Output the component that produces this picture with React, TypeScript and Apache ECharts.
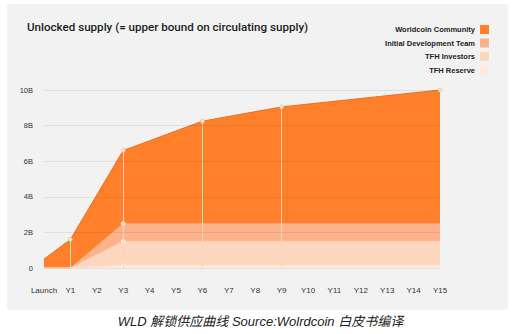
import React, { useEffect, useRef } from "react";
import * as echarts from "echarts";

const xLabels = ["Launch", "Y1", "Y2", "Y3", "Y4", "Y5", "Y6", "Y7", "Y8", "Y9", "Y10", "Y11", "Y12", "Y13", "Y14", "Y15"];
const pointLabels = ["Launch", "Y1", "Y3", "Y6", "Y9", "Y15"];
const reserve = [0, 0, 0.15, 0.15, 0.15, 0.15];
const investors = [0, 0, 1.35, 1.35, 1.35, 1.35];
const devTeam = [0, 0, 1.0, 1.0, 1.0, 1.0];
const community = [0.5, 1.6, 4.1, 5.75, 6.55, 7.5];
const yTicks = [0, 2, 4, 6, 8, 10];

const names = ["TFH Reserve", "TFH Investors", "Initial Development Team", "Worldcoin Community"];
const colors = ["#FEEBDD", "#FDD6BF", "#FDB28B", "#FF7F2A"];
const edgeColors = ["#FDE4D2", "#FCCDB0", "#F9A77A", "#E8701E"];

export default function App() {
  const ref = useRef<HTMLDivElement>(null);
  useEffect(() => {
    if (!ref.current) return;
    const chart = echarts.init(ref.current, undefined, { renderer: "svg" });
    const xs = pointLabels.map((l) => xLabels.indexOf(l));
    const layers = [reserve, investors, devTeam, community];
    // cumulative (stacked) tops for each layer
    const cum = layers.map((_, li) => xs.map((_, i) => layers.slice(0, li + 1).reduce((s, arr) => s + arr[i], 0)));
    const totals = cum[cum.length - 1];

    const series: any[] = layers.map((_, li) => ({
      name: names[li],
      type: "line",
      symbol: "circle",
      symbolSize: 4,
      z: 10 - li,
      lineStyle: { color: edgeColors[li], width: li === 3 ? 1 : 0.8 },
      itemStyle: { color: colors[li] },
      areaStyle: { color: colors[li], opacity: 1 },
      data: cum[li].map((v, i) => {
        const show = li === 3 ? i > 0 : pointLabels[i] === "Y3";
        return {
          value: [xs[i], v],
          symbol: show ? "circle" : "none",
          itemStyle: { color: "#FFE9D8", borderColor: li === 3 ? "#F6B485" : "#FFF3EA", borderWidth: 0.8 },
        };
      }),
      markLine:
        li === 0
          ? {
              silent: true,
              symbol: "none",
              z: 20,
              label: { show: false },
              lineStyle: { color: "#FDD3B4", width: 1, type: "solid" },
              data: xs
                .map((x, i) => ({ x, i }))
                .filter((p) => p.i > 0 && p.i < xs.length - 1)
                .map((p) => [{ coord: [p.x, 0] }, { coord: [p.x, totals[p.i]] }]),
            }
          : undefined,
    }));

    chart.setOption({
      animation: false,
      backgroundColor: "#ffffff",
      graphic: [
        {
          type: "rect",
          z: -10,
          silent: true,
          shape: { x: 7, y: 4, width: 501, height: 306, r: 3 },
          style: { fill: "#F2F2F2" },
        },
        {
          type: "text",
          left: "center",
          top: 315,
          silent: true,
          style: {
            text: "WLD 解锁供应曲线 Source:Wolrdcoin 白皮书编译",
            fontSize: 13,
            fontStyle: "italic",
            fontFamily: "'Liberation Sans', 'Noto Sans CJK SC', sans-serif",
            fill: "#222",
          },
        },
      ],
      title: {
        text: "Unlocked supply (= upper bound on circulating supply)",
        left: 22,
        top: 16,
        textStyle: {
          fontSize: 11.6,
          fontWeight: 500,
          color: "#1c1c1c",
          fontFamily: "Roboto, 'Liberation Sans', sans-serif",
        },
      },
      legend: {
        orient: "vertical",
        right: 27,
        top: 20,
        align: "right",
        itemWidth: 9,
        itemHeight: 9,
        itemGap: 4.5,
        icon: "rect",
        textStyle: {
          fontSize: 7.5,
          fontWeight: "bold",
          color: "#222",
          fontFamily: "'Liberation Sans Narrow', 'Liberation Sans', sans-serif",
        },
        data: [names[3], names[2], names[1], names[0]].map((n) => ({
          name: n,
          itemStyle: { color: colors[names.indexOf(n)] },
        })),
      },
      grid: { left: 44, right: 81, top: 90, bottom: 66, containLabel: false },
      xAxis: {
        type: "value",
        min: 0,
        max: xLabels.length - 1,
        interval: 1,
        axisLine: { show: false },
        axisTick: { show: false },
        splitLine: { show: false },
        axisLabel: {
          margin: 18,
          fontSize: 8,
          color: "#333",
          fontFamily: "'Liberation Sans', sans-serif",
          formatter: (v: number) => xLabels[v] ?? "",
        },
      },
      yAxis: {
        type: "value",
        min: yTicks[0],
        max: yTicks[yTicks.length - 1],
        interval: 2,
        z: 30,
        axisLine: { show: false },
        axisTick: { show: false },
        splitLine: { lineStyle: { color: "rgba(0,0,0,0.07)", width: 1 } },
        axisLabel: {
          margin: 11,
          fontSize: 7.5,
          color: "#333",
          fontFamily: "'Liberation Sans', sans-serif",
          formatter: (v: number) => (v === 0 ? "0" : `${v}B`),
        },
      },
      series,
    });
    return () => chart.dispose();
  }, []);
  return <div ref={ref} style={{ position: "fixed", left: 0, top: 0, width: 521, height: 334 }} />;
}
